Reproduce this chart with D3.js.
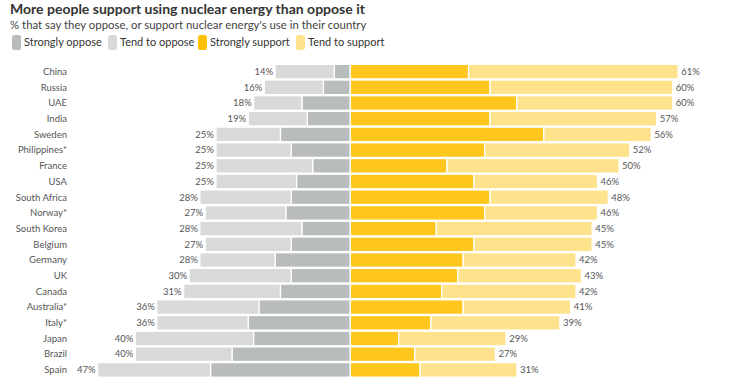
<!DOCTYPE html>
<html>
<head>
<meta charset="utf-8">
<script src="https://cdn.jsdelivr.net/npm/d3@7"></script>
<style>
	body { margin: 0; background: #fff; }
	text { font-family: Lato, "Liberation Sans", sans-serif; }
</style>
</head>
<body>
<svg id="chart" width="744" height="387"></svg>
<script>
// countries, top to bottom
const countries = ["China", "Russia", "UAE", "India", "Sweden", "Philippines*", "France", "USA",
	"South Africa", "Norway*", "South Korea", "Belgium", "Germany", "UK", "Canada",
	"Australia*", "Italy*", "Japan", "Brazil", "Spain"]
const strongly_oppose = [3, 5, 9, 8, 13, 11, 7, 10, 11, 12, 9, 11, 14, 11, 13, 17, 19, 18, 22, 26]
const tend_oppose = [11, 11, 9, 11, 12, 14, 18, 15, 17, 15, 19, 16, 14, 19, 18, 19, 17, 22, 18, 21]
const strongly_support = [22, 26, 31, 26, 36, 25, 18, 23, 26, 25, 16, 23, 21, 20, 17, 21, 15, 9, 12, 13]
const tend_support = [39, 34, 29, 31, 20, 27, 32, 23, 22, 21, 29, 22, 21, 23, 25, 20, 24, 20, 15, 18]
const legend_labels = ["Strongly oppose", "Tend to oppose", "Strongly support", "Tend to support"]
const colors = ["#b9bcbd", "#d9d9d9", "#ffc61e", "#ffe28c"]

var svg = d3.select("#chart")

svg.append("text")
	.attr("x", 10)
	.attr("y", 14)
	.attr("font-size", "14px")
	.attr("font-weight", "bold")
	.attr("fill", "#333")
	.text("More people support using nuclear energy than oppose it")

svg.append("text")
	.attr("x", 10)
	.attr("y", 28.5)
	.attr("font-size", "11.4px")
	.attr("fill", "#444")
	.text("% that say they oppose, or support nuclear energy's use in their country")

// legend
const legend_x = [12, 108, 198, 296]
legend_labels.forEach(function(l, i) {
	svg.append("rect").attr("x", legend_x[i]).attr("y", 35).attr("width", 9).attr("height", 15)
		.attr("rx", 2.5).attr("fill", colors[i] == "#ffc61e" ? "#ffc000" : colors[i])
	svg.append("text").attr("x", legend_x[i] + 12).attr("y", 46)
		.attr("font-size", "11px").attr("fill", "#333").text(l)
})

var x = d3.scaleLinear().domain([-50, 70]).range([350.3 - 50 * 5.375, 350.3 + 70 * 5.375])
var y = d3.scaleBand().domain(countries).range([64, 377.5]).paddingInner(0.07).paddingOuter(0.02)

var rows = countries.map(function(c, i) {
	return {
		country: c,
		segs: [
			{x0: -strongly_oppose[i], x1: 0, c: colors[0]},
			{x0: -strongly_oppose[i] - tend_oppose[i], x1: -strongly_oppose[i], c: colors[1]},
			{x0: 0, x1: strongly_support[i], c: colors[2]},
			{x0: strongly_support[i], x1: strongly_support[i] + tend_support[i], c: colors[3]}
		],
		oppose: strongly_oppose[i] + tend_oppose[i],
		support: strongly_support[i] + tend_support[i]
	}
})

var g = svg.append("g")

var row = g.selectAll(".row").data(rows).enter().append("g")
	.attr("transform", function(d) { return "translate(0," + y(d.country) + ")" })

row.selectAll("rect").data(function(d) { return d.segs }).enter().append("rect")
	.attr("x", function(d) { return x(d.x0) })
	.attr("width", function(d) { return x(d.x1) - x(d.x0) })
	.attr("y", 0)
	.attr("height", y.bandwidth())
	.attr("fill", function(d) { return d.c })
	.attr("stroke", "#fff")
	.attr("stroke-width", 1.3)

row.append("text")
	.attr("x", 67)
	.attr("y", y.bandwidth() / 2)
	.attr("dy", "0.35em")
	.attr("text-anchor", "end")
	.attr("font-size", "9.5px")
	.attr("fill", "#555")
	.text(function(d) { return d.country })

row.append("text")
	.attr("x", function(d) { return x(-d.oppose) - 2 })
	.attr("y", y.bandwidth() / 2)
	.attr("dy", "0.35em")
	.attr("text-anchor", "end")
	.attr("font-size", "9.5px")
	.attr("fill", "#555")
	.text(function(d) { return d.oppose + "%" })

row.append("text")
	.attr("x", function(d) { return x(d.support) + 3 })
	.attr("y", y.bandwidth() / 2)
	.attr("dy", "0.35em")
	.attr("font-size", "9.5px")
	.attr("fill", "#555")
	.text(function(d) { return d.support + "%" })
</script>
</body>
</html>
